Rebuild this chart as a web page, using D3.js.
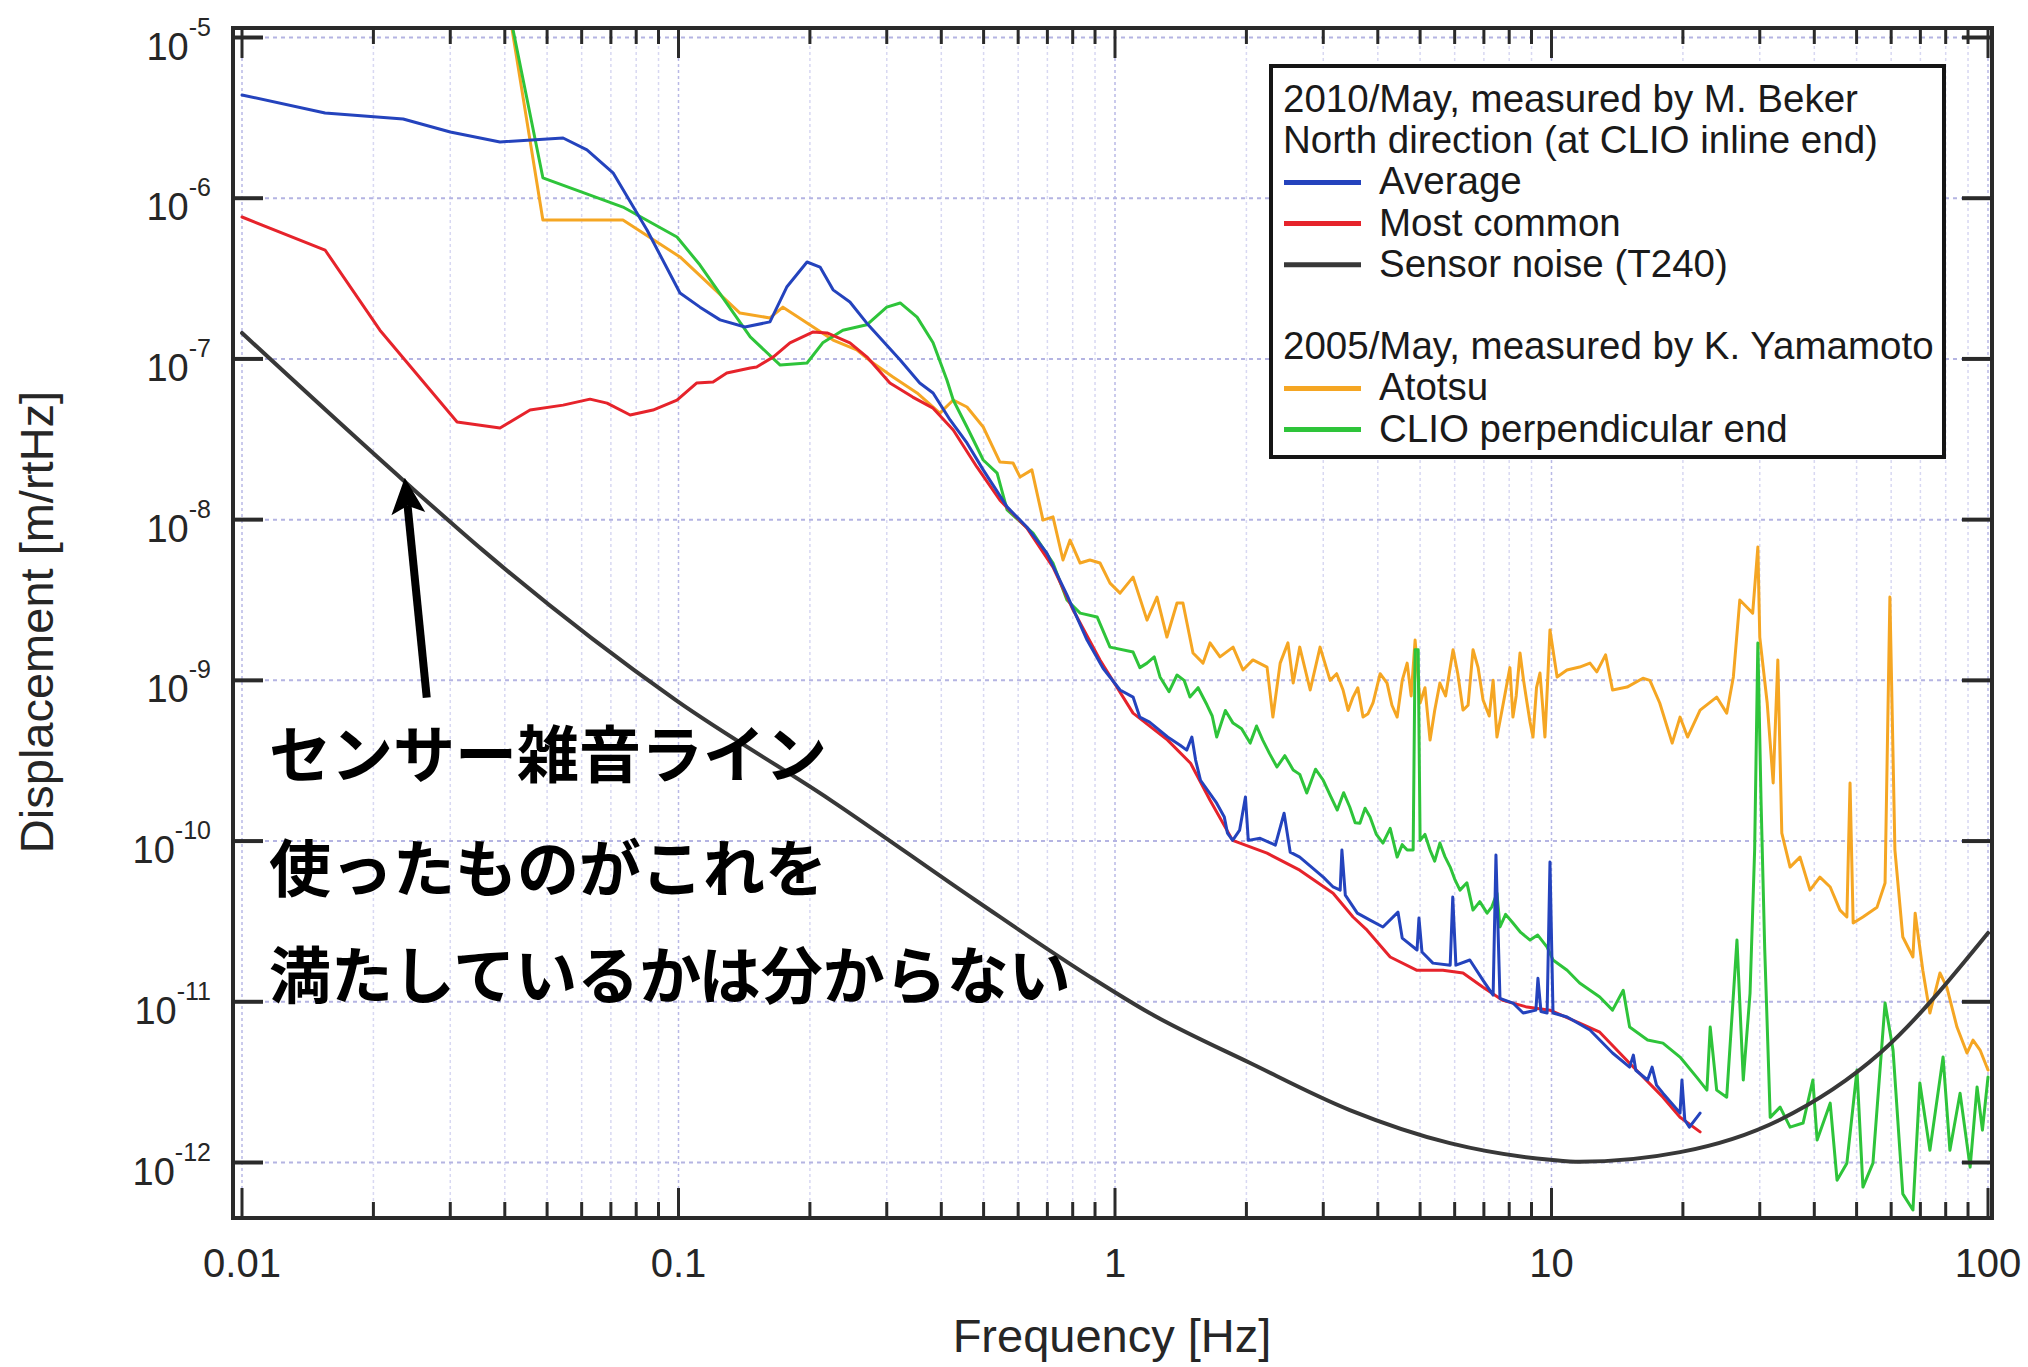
<!DOCTYPE html>
<html><head><meta charset="utf-8">
<script src="https://d3js.org/d3.v7.min.js"></script>
<style>html,body{margin:0;padding:0;background:#fff;} svg{display:block;}</style>
</head><body><svg id="chart" width="2028" height="1367"></svg>
<script>
// ---------- DATA ----------
const averagePts = [[0.01,4.39e-6],[0.0155,3.39e-6],[0.0234,3.11e-6],[0.030,2.58e-6],[0.039,2.24e-6],[0.0544,2.37e-6],[0.0617,2.00e-6],[0.0708,1.44e-6],[0.0847,6.34e-7],[0.1008,2.57e-7],[0.112,2.10e-7],[0.1245,1.75e-7],[0.142,1.58e-7],[0.162,1.70e-7],[0.177,2.80e-7],[0.197,4.01e-7],[0.211,3.73e-7],[0.226,2.69e-7],[0.247,2.26e-7],[0.270,1.67e-7],[0.322,9.84e-8],[0.357,7.08e-8],[0.383,6.14e-8],[0.419,4.17e-8],[0.458,3.00e-8],[0.499,2.04e-8],[0.566,1.20e-8],[0.628,9.0e-9],[0.698,6.19e-9],[0.776,3.40e-9],[0.863,1.78e-9],[0.939,1.19e-9],[1.027,8.71e-10],[1.10,7.87e-10],[1.14,5.90e-10],[1.20,5.50e-10],[1.32,4.44e-10],[1.41,3.95e-10],[1.46,3.68e-10],[1.50,4.44e-10],[1.53,3.19e-10],[1.57,2.39e-10],[1.71,1.72e-10],[1.78,1.41e-10],[1.81,1.12e-10],[1.86,1.01e-10],[1.93,1.17e-10],[1.99,1.88e-10],[2.02,1.01e-10],[2.15,1.04e-10],[2.33,9.44e-11],[2.44,1.49e-10],[2.52,8.53e-11],[2.65,7.94e-11],[3.00,5.97e-11],[3.16,5.18e-11],[3.28,4.95e-11],[3.31,8.79e-11],[3.37,4.61e-11],[3.59,3.56e-11],[3.84,3.22e-11],[4.11,2.92e-11],[4.45,3.61e-11],[4.55,2.49e-11],[4.92,2.10e-11],[4.97,3.32e-11],[5.05,2.04e-11],[5.35,1.74e-11],[5.86,1.69e-11],[5.94,4.48e-11],[6.04,1.69e-11],[6.50,1.82e-11],[6.97,1.36e-11],[7.35,1.10e-11],[7.46,8.18e-11],[7.62,1.05e-11],[8.16,9.82e-12],[8.61,8.51e-12],[9.21,8.87e-12],[9.31,1.40e-11],[9.46,8.70e-12],[9.77,8.51e-12],[9.92,7.40e-11],[10.08,8.51e-12],[10.86,8.04e-12],[12.25,6.67e-12],[13.8,4.80e-12],[15.1,3.92e-12],[15.4,4.66e-12],[15.6,3.75e-12],[16.6,3.26e-12],[17.0,3.92e-12],[17.4,3.03e-12],[18.0,2.70e-12],[19.7,2.03e-12],[19.9,3.26e-12],[20.2,1.84e-12],[20.7,1.66e-12],[21.9,2.03e-12]];

const mostCommonPts = [[0.01,7.64e-7],[0.0155,4.76e-7],[0.0207,1.51e-7],[0.0311,4.05e-8],[0.039,3.72e-8],[0.0457,4.81e-8],[0.0544,5.16e-8],[0.0627,5.62e-8],[0.0686,5.31e-8],[0.0775,4.48e-8],[0.0874,4.81e-8],[0.0992,5.55e-8],[0.110,7.08e-8],[0.120,7.18e-8],[0.129,8.17e-8],[0.146,8.77e-8],[0.151,8.9e-8],[0.165,1.03e-7],[0.180,1.26e-7],[0.203,1.47e-7],[0.219,1.45e-7],[0.247,1.26e-7],[0.270,1.03e-7],[0.305,7.08e-8],[0.344,5.79e-8],[0.383,4.94e-8],[0.426,3.61e-8],[0.483,2.12e-8],[0.545,1.32e-8],[0.628,8.87e-9],[0.721,5.07e-9],[0.802,2.74e-9],[0.924,1.34e-9],[1.10,6.25e-10],[1.32,4.25e-10],[1.49,3.05e-10],[1.65,1.80e-10],[1.86,1.01e-10],[2.23,8.41e-11],[2.65,6.59e-11],[3.16,4.74e-11],[3.51,3.37e-11],[3.78,2.79e-11],[4.27,1.90e-11],[4.92,1.57e-11],[5.64,1.57e-11],[6.27,1.51e-11],[6.97,1.23e-11],[7.74,1.02e-11],[8.79,9.27e-12],[9.92,8.87e-12],[11.6,7.36e-12],[12.9,6.47e-12],[15.1,4.15e-12],[18.0,2.55e-12],[19.7,1.91e-12],[21.9,1.55e-12]];

const sensorNoisePts = [[0.01,1.45e-7],[0.0234,1.76e-8],[0.0356,6.46e-9],[0.0986,7.53e-10],[0.223,1.80e-10],[0.478,4.30e-11],[0.877,1.43e-11],[1.20,8.51e-12],[2.04,4.16e-12],[3.45,2.12e-12],[5.85,1.32e-12],[9.93,1.04e-12],[11.6,1.01e-12],[19.7,1.16e-12],[33.3,1.84e-12],[56.6,4.80e-12],[100,2.68e-11]];

const atotsuPts = [[0.0416,1.11e-5],[0.0489,7.31e-7],[0.0746,7.31e-7],[0.1008,4.31e-7],[0.1383,1.93e-7],[0.162,1.80e-7],[0.1735,2.10e-7],[0.226,1.31e-7],[0.256,1.14e-7],[0.279,9.43e-8],[0.310,7.71e-8],[0.352,6.14e-8],[0.397,4.60e-8],[0.426,5.55e-8],[0.458,5.02e-8],[0.499,3.77e-8],[0.545,2.28e-8],[0.584,2.25e-8],[0.606,1.84e-8],[0.645,2.04e-8],[0.684,9.94e-9],[0.721,1.04e-8],[0.760,5.61e-9],[0.789,7.46e-9],[0.832,5.37e-9],[0.876,5.61e-9],[0.924,5.37e-9],[0.974,4.03e-9],[1.027,3.49e-9],[1.10,4.39e-9],[1.184,2.37e-9],[1.248,3.30e-9],[1.315,1.86e-9],[1.387,3.03e-9],[1.431,3.03e-9],[1.509,1.48e-9],[1.591,1.28e-9],[1.651,1.71e-9],[1.740,1.40e-9],[1.864,1.61e-9],[1.964,1.16e-9],[2.07,1.34e-9],[2.23,1.21e-9],[2.30,5.91e-10],[2.39,1.28e-9],[2.49,1.71e-9],[2.56,9.62e-10],[2.65,1.61e-9],[2.80,8.71e-10],[2.95,1.61e-9],[3.11,1.00e-9],[3.22,1.1e-9],[3.33,8.71e-10],[3.42,6.5e-10],[3.51,7.87e-10],[3.60,9.0e-10],[3.70,5.91e-10],[3.80,6.2e-10],[3.90,7.23e-10],[4.05,1.1e-9],[4.20,9.62e-10],[4.31,7.0e-10],[4.43,5.91e-10],[4.55,1.0e-9],[4.67,1.28e-9],[4.77,8.0e-10],[4.87,1.78e-9],[5.00,7.23e-10],[5.13,9.0e-10],[5.27,4.25e-10],[5.40,6.5e-10],[5.55,9.62e-10],[5.72,8.0e-10],[5.95,1.55e-9],[6.10,1.1e-9],[6.27,6.53e-10],[6.44,7.0e-10],[6.61,1.55e-9],[6.79,1.2e-9],[6.97,7.54e-10],[7.20,6.0e-10],[7.35,1.0e-9],[7.50,4.44e-10],[7.70,6.5e-10],[7.91,9.62e-10],[8.03,1.2e-9],[8.16,5.91e-10],[8.30,8.0e-10],[8.47,1.48e-9],[8.63,1.0e-9],[8.79,7.23e-10],[8.93,5.5e-10],[9.07,4.44e-10],[9.24,9.0e-10],[9.41,1.11e-9],[9.54,7.0e-10],[9.66,4.44e-10],[9.80,1.0e-9],[9.92,2.06e-9],[10.3,1.05e-9],[10.85,1.16e-9],[11.6,1.21e-9],[12.25,1.28e-9],[12.7,1.13e-9],[13.3,1.44e-9],[13.8,8.71e-10],[14.9,9.08e-10],[16.2,1.03e-9],[16.8,1.00e-9],[17.7,7.23e-10],[18.9,4.07e-10],[19.7,5.91e-10],[20.5,4.44e-10],[21.9,6.53e-10],[23.9,7.87e-10],[25.2,6.25e-10],[26.1,1.05e-9],[27.0,3.16e-9],[28.0,2.86e-9],[28.9,2.62e-9],[29.7,6.75e-9],[30.0,1.86e-9],[31.2,7.23e-10],[32.2,2.30e-10],[33.0,1.34e-9],[33.7,1.12e-10],[35.2,6.89e-11],[37.1,7.95e-11],[39.1,4.95e-11],[41.2,5.97e-11],[43.5,5.18e-11],[45.8,3.72e-11],[47.5,3.37e-11],[48.3,2.30e-10],[49.1,3.09e-11],[51.7,3.37e-11],[55.7,3.88e-11],[58.1,5.48e-11],[59.6,3.30e-9],[61.2,8.79e-11],[63.8,2.53e-11],[67.3,1.90e-11],[68.1,3.56e-11],[70.9,1.57e-11],[73.6,8.51e-12],[77.6,1.51e-11],[80.5,1.23e-11],[84.9,6.96e-12],[89.5,4.80e-12],[92.4,5.78e-12],[95.9,5.01e-12],[100,3.76e-12]];

const clioPerpPts = [[0.0418,1.11e-5],[0.0489,1.34e-6],[0.0746,8.81e-7],[0.0992,5.74e-7],[0.112,3.84e-7],[0.146,1.37e-7],[0.171,9.16e-8],[0.197,9.43e-8],[0.214,1.26e-7],[0.238,1.51e-7],[0.270,1.63e-7],[0.300,2.10e-7],[0.322,2.23e-7],[0.352,1.82e-7],[0.383,1.26e-7],[0.412,7.39e-8],[0.426,5.55e-8],[0.458,3.77e-8],[0.499,2.35e-8],[0.537,1.95e-8],[0.566,1.15e-8],[0.649,8.25e-9],[0.721,5.37e-9],[0.776,3.16e-9],[0.832,2.62e-9],[0.910,2.48e-9],[0.974,1.61e-9],[1.10,1.50e-9],[1.14,1.2e-9],[1.184,1.28e-9],[1.23,1.4e-9],[1.268,1.05e-9],[1.33,8.5e-10],[1.387,1.08e-9],[1.44,1.0e-9],[1.485,7.87e-10],[1.55,9.0e-10],[1.625,7.02e-10],[1.67,6.0e-10],[1.71,4.44e-10],[1.79,6.5e-10],[1.864,5.42e-10],[1.95,5.0e-10],[2.04,4.07e-10],[2.11,5.2e-10],[2.18,4.25e-10],[2.26,3.5e-10],[2.35,2.89e-10],[2.45,3.4e-10],[2.56,2.77e-10],[2.65,2.6e-10],[2.75,1.99e-10],[2.88,2.8e-10],[3.00,2.39e-10],[3.12,1.9e-10],[3.23,1.56e-10],[3.34,2.0e-10],[3.45,1.63e-10],[3.55,1.3e-10],[3.64,1.29e-10],[3.74,1.6e-10],[3.84,1.41e-10],[3.97,1.1e-10],[4.11,9.72e-11],[4.27,1.2e-10],[4.43,7.95e-11],[4.55,9.5e-11],[4.67,8.79e-11],[4.82,8.79e-11],[4.87,1.55e-9],[4.95,1.55e-9],[5.00,1.01e-10],[5.13,1.1e-10],[5.27,8.79e-11],[5.40,7.5e-11],[5.55,9.72e-11],[5.70,8.0e-11],[5.86,6.89e-11],[6.00,5.8e-11],[6.17,4.95e-11],[6.40,5.5e-11],[6.61,3.72e-11],[6.85,4.2e-11],[7.12,3.56e-11],[7.30,3.9e-11],[7.50,4.74e-11],[7.62,2.92e-11],[7.85,3.5e-11],[8.16,3.09e-11],[8.50,2.7e-11],[8.93,2.42e-11],[9.30,2.6e-11],[9.77,2.19e-11],[10.08,1.82e-11],[10.86,1.57e-11],[11.6,1.31e-11],[12.9,1.07e-11],[13.8,8.87e-12],[14.6,1.18e-11],[15.1,6.96e-12],[16.6,5.78e-12],[18.0,5.53e-12],[19.7,4.53e-12],[21.5,3.40e-12],[22.7,2.82e-12],[23.1,6.96e-12],[23.9,2.82e-12],[25.2,2.55e-12],[26.6,2.42e-11],[27.5,3.26e-12],[28.5,1.13e-11],[29.2,8.79e-11],[29.7,1.71e-9],[30.2,1.80e-10],[30.8,2.10e-11],[31.7,1.91e-12],[33.4,2.21e-12],[35.2,1.66e-12],[37.7,1.76e-12],[39.7,3.26e-12],[40.6,1.38e-12],[43.5,2.34e-12],[45.1,7.76e-13],[47.5,9.91e-13],[50.1,3.76e-12],[51.7,7.03e-13],[54.5,9.91e-13],[58.1,9.82e-12],[60.6,5.01e-12],[63.8,6.38e-13],[67.3,5.06e-13],[69.8,3.12e-12],[73.6,1.19e-12],[78.9,4.53e-12],[81.8,1.19e-12],[86.3,2.70e-12],[91.0,9.36e-13],[94.4,2.95e-12],[97.1,1.59e-12],[100,3.40e-12]];

const xTickValues = [0.01, 0.1, 1, 10, 100];
const xTickLabels = ["0.01", "0.1", "1", "10", "100"];
const yTickExponents = [-5, -6, -7, -8, -9, -10, -11, -12];
const xAxisTitle = "Frequency [Hz]";
const yAxisTitle = "Displacement [m/rtHz]";
const legendRows = [
  {type: "header", text: "2010/May, measured by M. Beker"},
  {type: "header", text: "North direction (at CLIO inline end)"},
  {type: "item", text: "Average", key: "average"},
  {type: "item", text: "Most common", key: "mostCommon"},
  {type: "item", text: "Sensor noise (T240)", key: "sensor"},
  {type: "gap"},
  {type: "header", text: "2005/May, measured by K. Yamamoto"},
  {type: "item", text: "Atotsu", key: "atotsu"},
  {type: "item", text: "CLIO perpendicular end", key: "clio"}
];
const noteLines = ["センサー雑音ライン", "使ったものがこれを", "満たしているかは分からない"];
const arrowTip = [0.0236, 1.82e-8];
const arrowTail = [0.0265, 7.8e-10];

// ---------- STYLE / LAYOUT ----------
const colors = {average: "#2443bd", mostCommon: "#e6232b", sensor: "#383838", atotsu: "#f5a623", clio: "#2ec43a"};
const widths = {average: 3, mostCommon: 3, sensor: 4, atotsu: 3, clio: 3};
const frame = {left: 233, right: 1992, top: 28, bottom: 1218};
const FONT = "'Liberation Sans', Arial, Helvetica, sans-serif";

const svg = d3.select("#chart");
svg.append("rect").attr("width", 2028).attr("height", 1367).attr("fill", "#fff");

const x = d3.scaleLog().domain([0.01, 100]).range([242, 1988]);
const y = d3.scaleLog().domain([1e-5, 1e-12]).range([37.5, 1162.5]);

// grid
const minorX = [];
for (let k = -2; k <= 1; k++) for (let m = 1; m <= 9; m++) minorX.push(m * Math.pow(10, k));
minorX.push(100);
const isMajor = d => Math.abs(Math.log10(d) - Math.round(Math.log10(d))) < 1e-6;
const grid = svg.append("g");
grid.selectAll("line.vx").data(minorX).join("line")
  .attr("x1", d => x(d)).attr("x2", d => x(d))
  .attr("y1", frame.top).attr("y2", frame.bottom)
  .attr("stroke", d => isMajor(d) ? "#b9b9e6" : "#d8d8f2")
  .attr("stroke-width", 1.5)
  .attr("stroke-dasharray", "3,3");
grid.selectAll("line.hy").data(yTickExponents).join("line")
  .attr("x1", frame.left).attr("x2", frame.right)
  .attr("y1", d => y(Math.pow(10, d))).attr("y2", d => y(Math.pow(10, d)))
  .attr("stroke", "#b4b4e2").attr("stroke-width", 2).attr("stroke-dasharray", "4,4");

// clip
svg.append("clipPath").attr("id", "plotclip").append("rect")
  .attr("x", frame.left).attr("y", frame.top)
  .attr("width", frame.right - frame.left).attr("height", frame.bottom - frame.top);

const line = d3.line().x(d => x(d[0])).y(d => y(d[1]));
const smooth = d3.line().x(d => x(d[0])).y(d => y(d[1])).curve(d3.curveMonotoneX);
const plot = svg.append("g").attr("clip-path", "url(#plotclip)");
const series = [
  {key: "atotsu", pts: atotsuPts, gen: line},
  {key: "clio", pts: clioPerpPts, gen: line},
  {key: "mostCommon", pts: mostCommonPts, gen: line},
  {key: "average", pts: averagePts, gen: line},
  {key: "sensor", pts: sensorNoisePts, gen: smooth}
];
series.forEach(s => {
  plot.append("path").attr("d", s.gen(s.pts)).attr("fill", "none")
    .attr("stroke", colors[s.key]).attr("stroke-width", widths[s.key])
    .attr("stroke-linejoin", "round").attr("stroke-linecap", "round");
});

// frame + ticks
const axes = svg.append("g").attr("stroke", "#2a2a2a");
axes.append("rect").attr("x", frame.left).attr("y", frame.top)
  .attr("width", frame.right - frame.left).attr("height", frame.bottom - frame.top)
  .attr("fill", "none").attr("stroke-width", 4);
minorX.forEach(d => {
  const L = isMajor(d) ? 30 : 16;
  axes.append("line").attr("x1", x(d)).attr("x2", x(d)).attr("y1", frame.bottom).attr("y2", frame.bottom - L).attr("stroke-width", 3);
  axes.append("line").attr("x1", x(d)).attr("x2", x(d)).attr("y1", frame.top).attr("y2", frame.top + L).attr("stroke-width", 3);
});
yTickExponents.forEach(e => {
  const yy = y(Math.pow(10, e));
  axes.append("line").attr("x1", frame.left).attr("x2", frame.left + 30).attr("y1", yy).attr("y2", yy).attr("stroke-width", 4);
  axes.append("line").attr("x1", frame.right).attr("x2", frame.right - 30).attr("y1", yy).attr("y2", yy).attr("stroke-width", 4);
});

// tick labels
const labels = svg.append("g").attr("font-family", FONT).attr("fill", "#262626");
xTickValues.forEach((v, i) => {
  labels.append("text").attr("x", x(v)).attr("y", 1277).attr("text-anchor", "middle")
    .attr("font-size", 40).text(xTickLabels[i]);
});
yTickExponents.forEach(e => {
  const t = labels.append("text").attr("x", 211).attr("y", y(Math.pow(10, e)) + 22)
    .attr("text-anchor", "end").attr("font-size", 38);
  t.append("tspan").text("10");
  t.append("tspan").attr("dy", -24).attr("font-size", 25).text(String(e));
});
labels.append("text").attr("x", 1112).attr("y", 1352).attr("text-anchor", "middle")
  .attr("font-size", 47).text(xAxisTitle);
labels.append("text").attr("transform", "translate(53,622) rotate(-90)").attr("text-anchor", "middle")
  .attr("font-size", 47).text(yAxisTitle);

// legend
const lg = svg.append("g").attr("font-family", FONT);
lg.append("rect").attr("x", 1271).attr("y", 66).attr("width", 673).attr("height", 391)
  .attr("fill", "#fff").attr("stroke", "#151515").attr("stroke-width", 4);
legendRows.forEach((r, i) => {
  const base = 112 + 41.2 * i;
  if (r.type === "header") {
    lg.append("text").attr("x", 1283).attr("y", base).attr("font-size", 38.5).attr("fill", "#1a1a1a").text(r.text);
  } else if (r.type === "item") {
    lg.append("line").attr("x1", 1284).attr("x2", 1361).attr("y1", base - 12).attr("y2", base - 12)
      .attr("stroke", colors[r.key]).attr("stroke-width", 5);
    lg.append("text").attr("x", 1379).attr("y", base).attr("font-size", 38.5).attr("fill", "#1a1a1a").text(r.text);
  }
});

// annotation
const note = svg.append("g").attr("font-family", "'Noto Sans CJK JP', sans-serif")
  .attr("font-weight", 700).attr("font-size", 62).attr("fill", "#000");
[778, 892, 999].forEach((yy, i) => note.append("text").attr("x", 269).attr("y", yy).text(noteLines[i]));

const tip = [x(arrowTip[0]), y(arrowTip[1])];
const tail = [x(arrowTail[0]), y(arrowTail[1])];
const dx = tail[0] - tip[0], dy = tail[1] - tip[1];
const len = Math.hypot(dx, dy);
const u = [dx / len, dy / len], n = [u[1], -u[0]];
const headL = 36, headW = 17;
const bc = [tip[0] + headL * u[0], tip[1] + headL * u[1]];
const notch = [tip[0] + 28 * u[0], tip[1] + 28 * u[1]];
svg.append("line").attr("x1", notch[0]).attr("y1", notch[1]).attr("x2", tail[0]).attr("y2", tail[1])
  .attr("stroke", "#000").attr("stroke-width", 8);
svg.append("path").attr("d", `M${tip[0]},${tip[1]} L${bc[0] + headW * n[0]},${bc[1] + headW * n[1]} L${notch[0]},${notch[1]} L${bc[0] - headW * n[0]},${bc[1] - headW * n[1]} Z`)
  .attr("fill", "#000");
</script>
</body></html>
